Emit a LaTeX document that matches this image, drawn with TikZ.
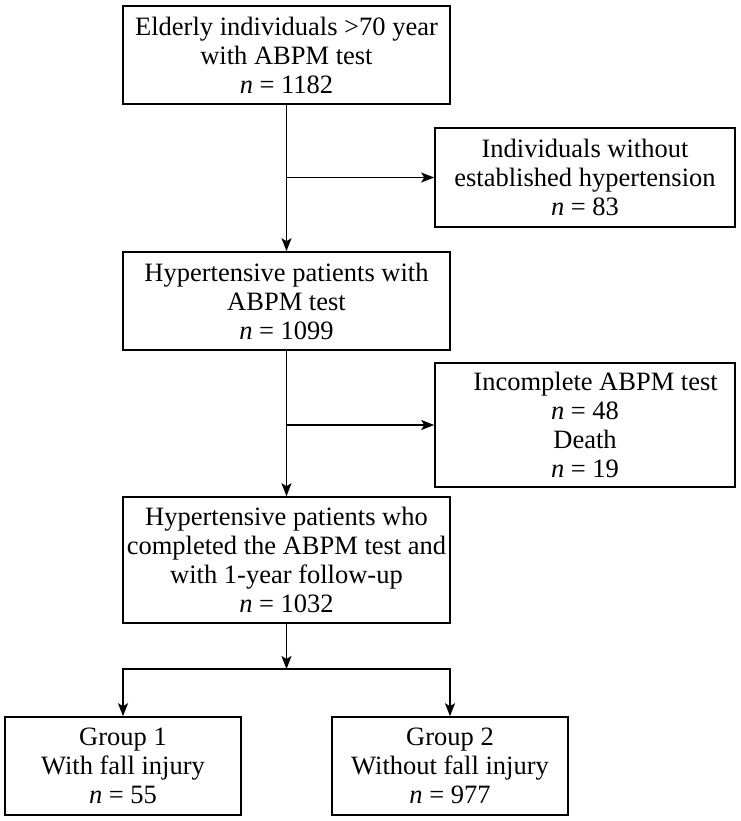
\documentclass[tikz,border=0pt]{standalone}
\usepackage{fontspec}
\setmainfont{Liberation Serif}
\usetikzlibrary{arrows.meta}
\newcommand{\nn}[1]{\textit{n} = #1} % Sample size.

\begin{document}
\begin{tikzpicture}[x=1pt,y=-1pt,
  box/.style={draw,line width=1.6pt,align=center,inner sep=0pt,
    font=\fontsize{26.5}{29}\selectfont},
  flow/.style={line width=1.6pt,-{Stealth[length=13pt,width=10pt,inset=3pt]}}]
\useasboundingbox (0,0) rectangle (740,821);
\node[box,minimum width=327pt,minimum height=98pt] (elderly) at (286.5,55)
  {Elderly individuals >70 year\\with ABPM test\\\nn{1182}};
\node[box,minimum width=300pt,minimum height=99pt] (nohyp) at (585,177.5)
  {Individuals without\\established hypertension\\\nn{83}};
\node[box,minimum width=327pt,minimum height=98pt] (hyper) at (286.5,301)
  {Hypertensive patients with\\ABPM test\\\nn{1099}};
\node[box,minimum width=300pt,minimum height=124pt] (excl) at (585,425)
  {\hspace*{0.8em}Incomplete ABPM test\\\nn{48}\\Death\\\nn{19}};
\node[box,minimum width=327pt,minimum height=126pt] (follow) at (286.5,560)
  {Hypertensive patients who\\completed the ABPM test and\\with 1-year follow-up\\\nn{1032}};
\node[box,minimum width=236pt,minimum height=98pt] (fall) at (123,766)
  {Group 1\\With fall injury\\\nn{55}};
\node[box,minimum width=236pt,minimum height=98pt] (nofall) at (450,766)
  {Group 2\\Without fall injury\\\nn{977}};
\coordinate (split) at (286.5,669);

\draw[flow] (elderly) -- (hyper);
\draw[flow] (elderly.south |- nohyp) -- (nohyp.west);
\draw[flow] (hyper) -- (follow);
\draw[flow] (hyper.south |- excl) -- (excl.west);
\draw[flow] (follow) -- (split);
\draw[flow] (split) -| (fall);
\draw[flow] (split) -| (nofall);
\end{tikzpicture}
\end{document}
